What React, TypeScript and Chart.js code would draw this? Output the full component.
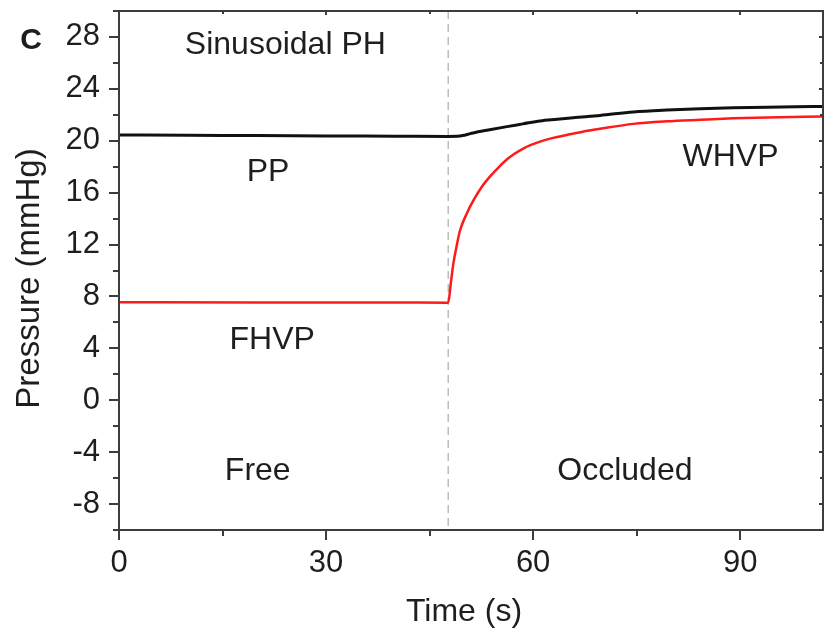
import React, { useEffect, useRef } from 'react';
import { Chart, registerables } from 'chart.js';

Chart.register(...registerables);

// ---- data ----
const ppTime = [0, 10, 20, 30, 40, 47.7, 49.0, 50.2, 51.3, 53.5, 56.2, 58.5, 61, 63.5, 65.8, 69.7, 74.5, 79.4, 84.2, 89, 93.9, 98, 102];
const ppValues = [20.45, 20.42, 20.4, 20.37, 20.35, 20.33, 20.34, 20.45, 20.6, 20.83, 21.09, 21.3, 21.53, 21.66, 21.78, 21.95, 22.22, 22.37, 22.47, 22.54, 22.59, 22.62, 22.64];

const hvpTime = [0, 20, 40, 47.7, 48.07, 48.45, 48.94, 49.42, 50.39, 51.35, 52.5, 53.77, 55.0, 56.18, 57.3, 58.5, 59.7, 61.0, 62.9, 64.9, 67.2, 69.7, 74.5, 79.4, 84.2, 89.0, 93.9, 102];
const hvpValues = [7.56, 7.54, 7.53, 7.52, 9.0, 10.55, 11.95, 13.1, 14.4, 15.4, 16.4, 17.25, 17.95, 18.55, 19.0, 19.38, 19.68, 19.93, 20.22, 20.45, 20.7, 20.92, 21.3, 21.5, 21.62, 21.73, 21.8, 21.86];

const occlusionTime = 47.7;

const xMajorTicks = [0, 30, 60, 90];
const xMinorTicks = [15, 45, 75];
const yMajorTicks = [-8, -4, 0, 4, 8, 12, 16, 20, 24, 28];
const yMinorTicks = [-10, -6, -2, 2, 6, 10, 14, 18, 22, 26, 30];

const annotationTexts = ['Sinusoidal PH', 'PP', 'WHVP', 'FHVP', 'Free', 'Occluded'];
const annotationX = [24.1, 21.6, 88.6, 22.2, 20.1, 73.3];
const annotationY = [27.4, 17.6, 18.7, 4.65, -5.5, -5.5];

const panelLabel = 'C';
const xTitle = 'Time (s)';
const yTitle = 'Pressure (mmHg)';

const FONT = '"Liberation Sans", Arial, Helvetica, sans-serif';
const TEXT = '#1e1e1e';
const AXIS = '#3c3c3c';

const decorPlugin = {
  id: 'decor',
  beforeDatasetsDraw(chart: any) {
    const { ctx, chartArea, scales } = chart;
    const x = scales.x.getPixelForValue(occlusionTime);
    ctx.save();
    ctx.strokeStyle = '#bdbdbd';
    ctx.lineWidth = 1.5;
    ctx.setLineDash([8, 5]);
    ctx.beginPath();
    ctx.moveTo(x, chartArea.top);
    ctx.lineTo(x, chartArea.bottom);
    ctx.stroke();
    ctx.restore();
  },
  afterDraw(chart: any) {
    const { ctx, chartArea, scales } = chart;
    const { left, right, top, bottom } = chartArea;
    ctx.save();
    ctx.strokeStyle = AXIS;
    ctx.lineWidth = 2;
    ctx.strokeRect(left, top, right - left, bottom - top);

    const drawX = (vals: number[], outLen: number, inLen: number) => {
      vals.forEach((v) => {
        const px = Math.round(scales.x.getPixelForValue(v));
        ctx.beginPath();
        ctx.moveTo(px, bottom);
        ctx.lineTo(px, bottom + outLen);
        ctx.moveTo(px, top);
        ctx.lineTo(px, top + inLen);
        ctx.stroke();
      });
    };
    const drawY = (vals: number[], outLen: number, inLen: number) => {
      vals.forEach((v) => {
        const py = Math.round(scales.y.getPixelForValue(v));
        ctx.beginPath();
        ctx.moveTo(left, py);
        ctx.lineTo(left - outLen, py);
        ctx.moveTo(right, py);
        ctx.lineTo(right - inLen, py);
        ctx.stroke();
      });
    };
    drawX(xMajorTicks, 10, 4);
    drawX(xMinorTicks, 6, 3);
    drawY(yMajorTicks, 10, 4);
    drawY(yMinorTicks, 6, 3);

    ctx.fillStyle = TEXT;
    ctx.textAlign = 'center';
    ctx.textBaseline = 'middle';
    ctx.font = `32px ${FONT}`;
    annotationTexts.forEach((t, i) => {
      ctx.fillText(t, scales.x.getPixelForValue(annotationX[i]), scales.y.getPixelForValue(annotationY[i]));
    });

    // axis titles
    ctx.font = `32px ${FONT}`;
    ctx.fillText(xTitle, (left + right) / 2 - 7, bottom + 82);
    ctx.save();
    ctx.translate(left - 89, (top + bottom) / 2 + 8);
    ctx.rotate(-Math.PI / 2);
    ctx.font = `33px ${FONT}`;
    ctx.fillText(yTitle, 0, 0);
    ctx.restore();

    ctx.font = `bold 30px ${FONT}`;
    ctx.textAlign = 'center';
    ctx.fillText(panelLabel, left - 88, top + 30);
    ctx.restore();
  },
};

export default function App() {
  const ref = useRef<HTMLCanvasElement>(null);

  useEffect(() => {
    if (!ref.current) return;
    const chart = new Chart(ref.current, {
      type: 'line',
      data: {
        datasets: [
          {
            label: 'PP',
            data: ppTime.map((t, i) => ({ x: t, y: ppValues[i] })),
            borderColor: '#111111',
            borderWidth: 3,
            pointRadius: 0,
            cubicInterpolationMode: 'monotone',
            fill: false,
          },
          {
            label: 'HVP',
            data: hvpTime.map((t, i) => ({ x: t, y: hvpValues[i] })),
            borderColor: '#ff1a1a',
            borderWidth: 2.5,
            pointRadius: 0,
            cubicInterpolationMode: 'monotone',
            fill: false,
          },
        ],
      },
      options: {
        responsive: false,
        animation: false,
        layout: { padding: { top: 11, right: 5, left: 0, bottom: 0 } },
        plugins: { legend: { display: false }, tooltip: { enabled: false } },
        scales: {
          x: {
            type: 'linear',
            min: 0,
            max: 102,
            afterBuildTicks: (s: any) => {
              s.ticks = xMajorTicks.map((v) => ({ value: v }));
            },
            afterFit: (s: any) => {
              s.height = 106;
              s.paddingLeft = 0;
              s.paddingRight = 0;
            },
            grid: { display: false, drawTicks: false },
            border: { display: false },
            ticks: {
              autoSkip: false,
              maxRotation: 0,
              padding: 15,
              color: TEXT,
              font: { family: FONT, size: 31 },
            },
            title: { display: false },
          },
          y: {
            type: 'linear',
            min: -10,
            max: 30,
            afterBuildTicks: (s: any) => {
              s.ticks = yMajorTicks.map((v) => ({ value: v }));
            },
            afterFit: (s: any) => {
              s.width = 119;
              s.paddingTop = 0;
              s.paddingBottom = 0;
            },
            grid: { display: false, drawTicks: false },
            border: { display: false },
            ticks: {
              autoSkip: false,
              padding: 19,
              color: TEXT,
              font: { family: FONT, size: 31 },
            },
            title: { display: false },
          },
        },
      },
      plugins: [decorPlugin],
    } as any);
    return () => chart.destroy();
  }, []);

  return (
    <div style={{ position: 'absolute', left: 0, top: 0, width: 828, height: 636, background: '#fff' }}>
      <canvas ref={ref} width={828} height={636} style={{ width: 828, height: 636 }} />
    </div>
  );
}
